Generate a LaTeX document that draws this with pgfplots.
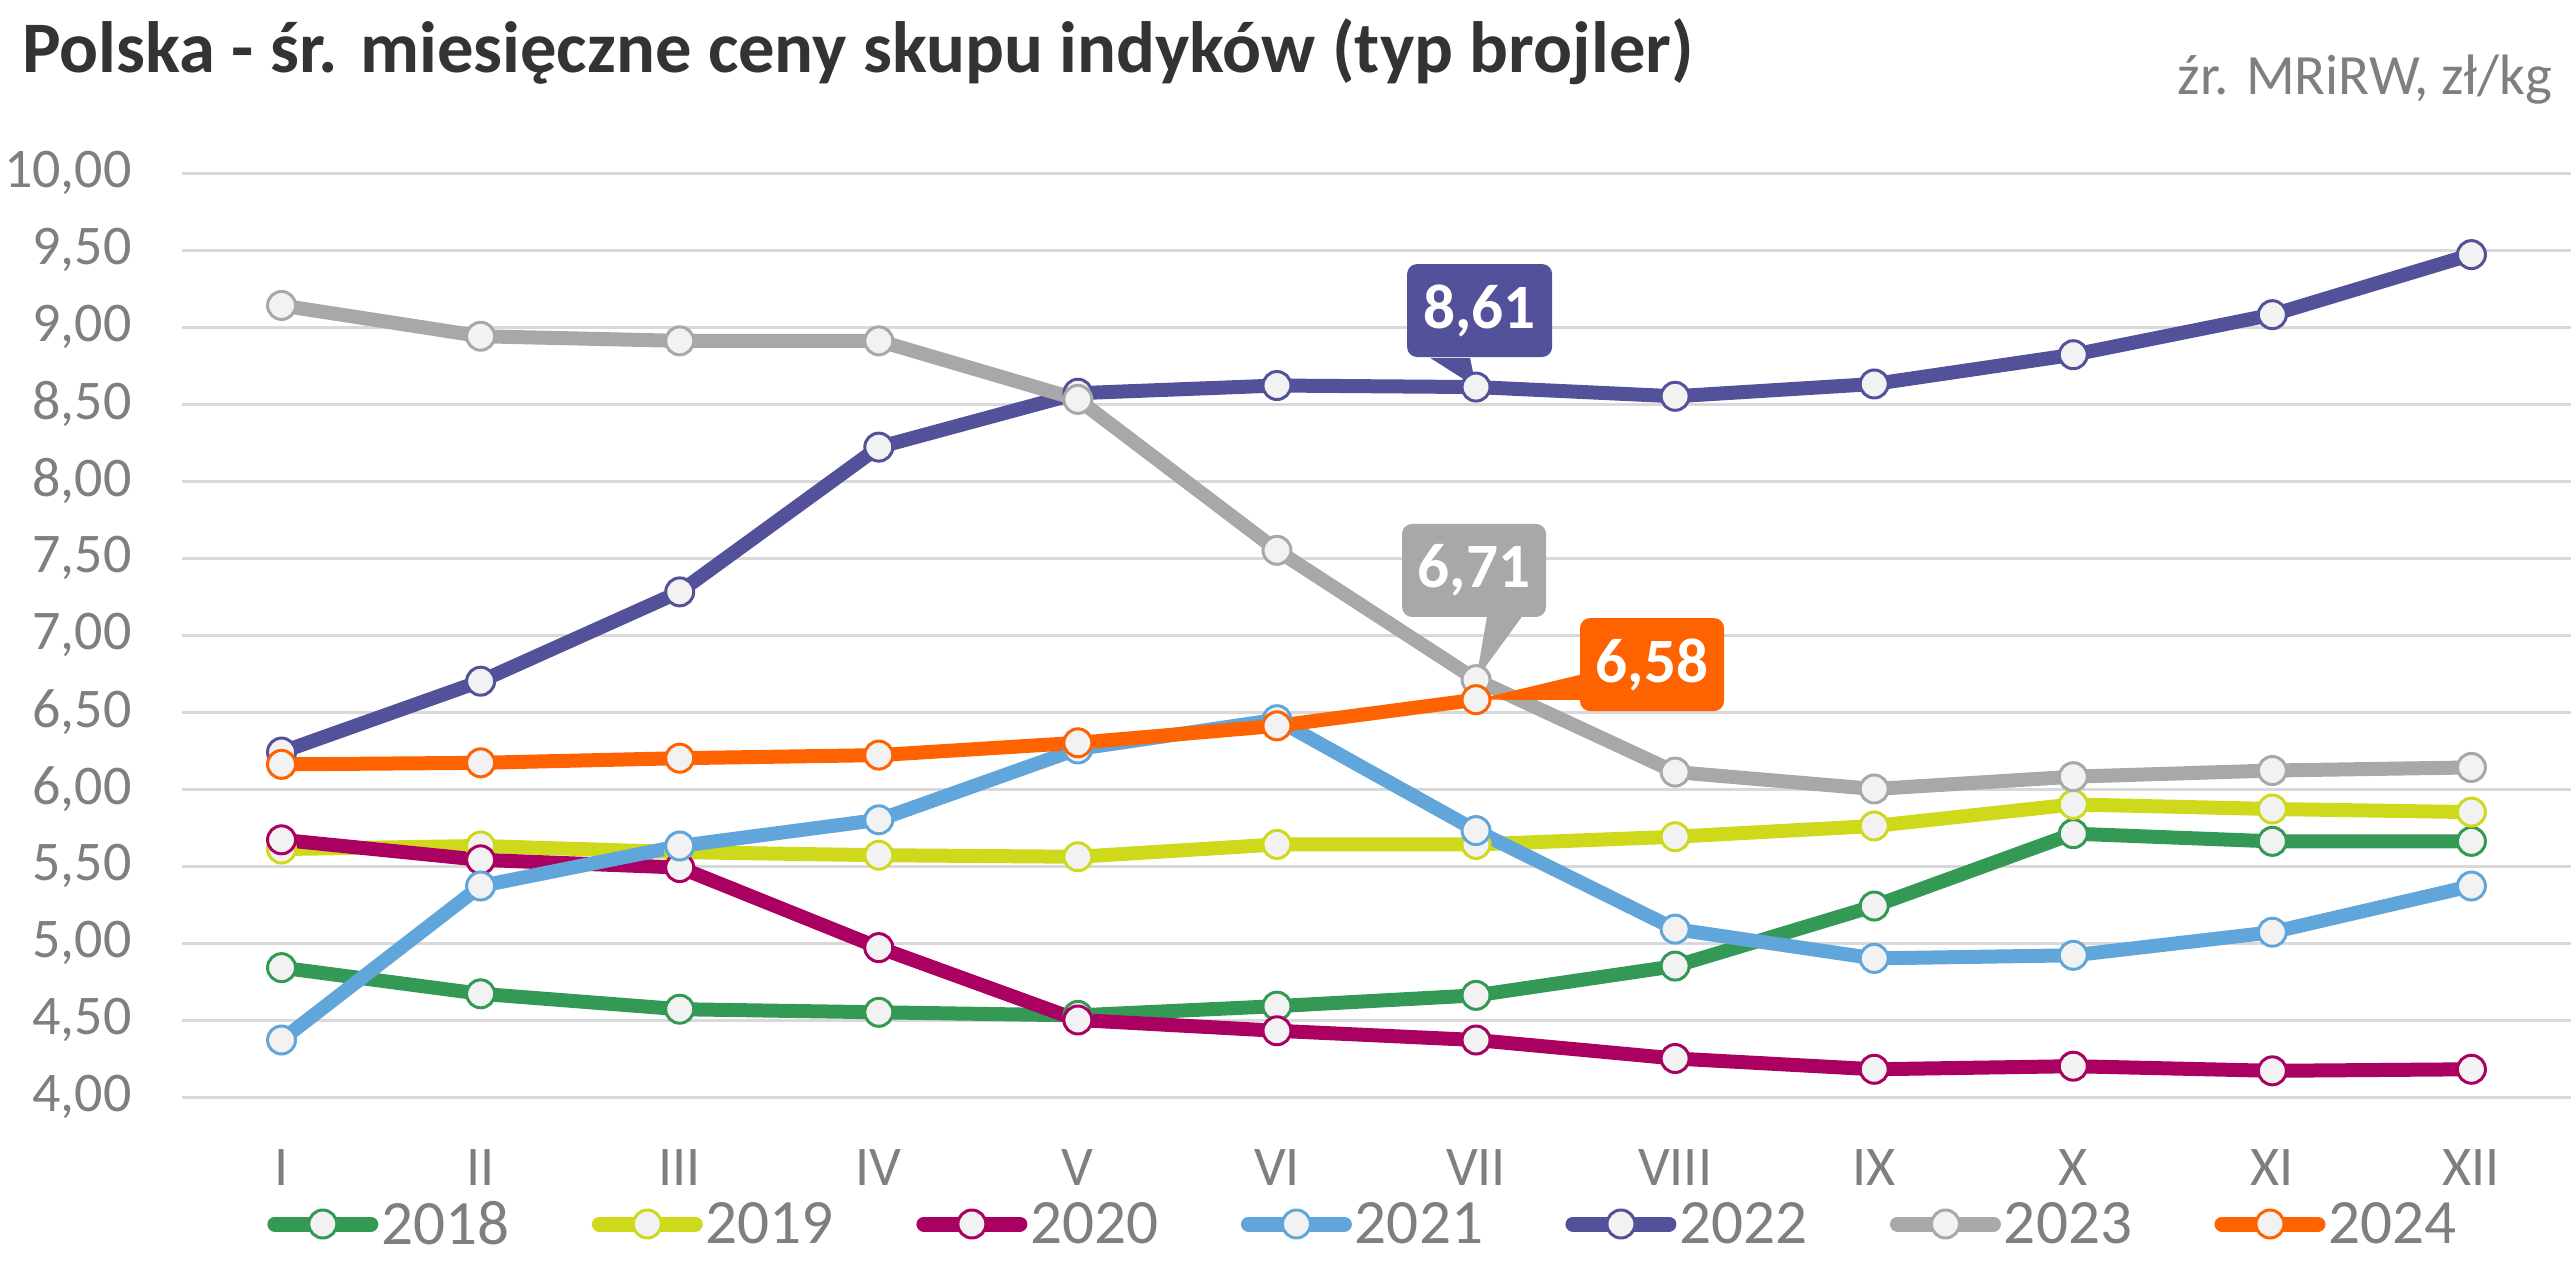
\documentclass[border=0pt]{standalone}
\usepackage{fontspec}
\setmainfont{Carlito}
\usepackage{pgfplots}
\pgfplotsset{compat=1.18}
\usepackage{pgfplotstable}
\definecolor{c18}{HTML}{339954}
\definecolor{c19}{HTML}{CFD91C}
\definecolor{c20}{HTML}{A90061}
\definecolor{c21}{HTML}{60A6DA}
\definecolor{c22}{HTML}{525199}
\definecolor{c23}{HTML}{A8A8A8}
\definecolor{c24}{HTML}{FF6200}
\definecolor{markfill}{HTML}{F2F2F2}
\definecolor{gridcol}{HTML}{D9D9D9}
\definecolor{tickcol}{HTML}{7F7F7F}
\definecolor{titlecol}{HTML}{333333}

\pgfplotstableread{
m y18 y19 y20 y21 y22 y23
1 4.84 5.61 5.67 4.37 6.24 9.14
2 4.67 5.63 5.54 5.37 6.70 8.94
3 4.57 5.59 5.49 5.63 7.28 8.91
4 4.55 5.57 4.97 5.80 8.22 8.91
5 4.53 5.56 4.50 6.26 8.57 8.53
6 4.59 5.64 4.43 6.45 8.62 7.55
7 4.66 5.64 4.37 5.73 8.61 6.71
8 4.85 5.69 4.25 5.09 8.55 6.11
9 5.24 5.76 4.18 4.90 8.63 6.00
10 5.71 5.90 4.20 4.92 8.82 6.08
11 5.66 5.87 4.17 5.07 9.08 6.12
12 5.66 5.85 4.18 5.37 9.47 6.14
}\datatab
\pgfplotstableread{
m y24
1 6.16
2 6.17
3 6.20
4 6.22
5 6.30
6 6.41
7 6.58
}\datatabb

\tikzset{ser/.style={#1, line width=7pt, line join=round, mark=*, mark size=7pt,
  mark options={fill=markfill, draw=#1, line width=1.5pt}}}

\begin{document}
\begin{tikzpicture}
\useasboundingbox (-91pt,-88.5pt) rectangle (1197pt,548.5pt);
\node[anchor=base west, inner sep=0pt, text=titlecol, font=\fontsize{36.3}{40}\selectfont\bfseries] at (-80pt,512pt) {Polska - śr. miesięczne ceny skupu indyków (typ brojler)};
\node[anchor=base east, inner sep=0pt, text=tickcol, font=\fontsize{28.5}{32}\selectfont] at (1185.5pt,501pt) {źr. MRiRW, zł/kg};
\begin{axis}[
  at={(0pt,0pt)}, anchor=south west,
  scale only axis, width=1194.5pt, height=462pt,
  xmin=0.5, xmax=12.5, ymin=4, ymax=10,
  clip=false,
  axis line style={draw=none},
  major tick length=0pt,
  ymajorgrids, grid style={gridcol, line width=1.5pt},
  xtick={1,...,12},
  xticklabels={I,II,III,IV,V,VI,VII,VIII,IX,X,XI,XII},
  ytick={4,4.5,5,5.5,6,6.5,7,7.5,8,8.5,9,9.5,10},
  yticklabels={{4,00},{4,50},{5,00},{5,50},{6,00},{6,50},{7,00},{7,50},{8,00},{8,50},{9,00},{9,50},{10,00}},
  ticklabel style={text=tickcol, font=\fontsize{28}{30}\selectfont, inner sep=0pt},
  yticklabel style={anchor=east, xshift=-25pt},
  xticklabel style={anchor=base, yshift=-44pt},
  legend columns=7,
  legend style={draw=none, fill=none, at={(0.5,0)}, anchor=center, yshift=-63.5pt, xshift=-6.5pt,
    font=\fontsize{31.6}{34}\selectfont, text=tickcol,
    nodes={inner sep=1.5pt},
    /tikz/every even column/.append style={column sep=39.7pt}},
  legend image code/.code={
    \draw[#1, line width=7.5pt, line cap=round, mark=none] (0pt,0pt) -- (48pt,0pt);
    \draw[#1, draw=none, mark repeat=2, mark phase=2] plot coordinates {(0pt,0pt) (24pt,0pt) (48pt,0pt)};
  },
]
\addplot[ser=c18] table[x=m, y=y18] {\datatab};
\addlegendentry{2018}
\addplot[ser=c19] table[x=m, y=y19] {\datatab};
\addlegendentry{2019}
\addplot[ser=c20] table[x=m, y=y20] {\datatab};
\addlegendentry{2020}
\addplot[ser=c21] table[x=m, y=y21] {\datatab};
\addlegendentry{2021}
\addplot[ser=c22] table[x=m, y=y22] {\datatab};
\addlegendentry{2022}
\addplot[ser=c23] table[x=m, y=y23] {\datatab};
\addlegendentry{2023}
\addplot[ser=c24] table[x=m, y=y24] {\datatabb};
\addlegendentry{2024}
% callouts
\fill[c22] (axis cs:6.769,8.80) -- (axis cs:7,8.61) -- (axis cs:6.97,8.80) -- cycle;
\node[fill=c22, rounded corners=5pt, minimum width=72.5pt, minimum height=46.5pt, inner sep=0pt, text=white, font=\fontsize{31.6}{34}\selectfont\bfseries] at (axis cs:7.018,9.107) {8,61};
\fill[c23] (axis cs:7.055,7.12) -- (axis cs:7,6.71) -- (axis cs:7.231,7.12) -- cycle;
\node[fill=c23, rounded corners=5pt, minimum width=72pt, minimum height=46.5pt, inner sep=0pt, text=white, font=\fontsize{31.6}{34}\selectfont\bfseries] at (axis cs:6.990,7.419) {6,71};
\fill[c24] (axis cs:7.56,6.753) -- (axis cs:7,6.58) -- (axis cs:7.56,6.578) -- cycle;
\node[fill=c24, rounded corners=5pt, minimum width=72pt, minimum height=46.5pt, inner sep=0pt, text=white, font=\fontsize{31.6}{34}\selectfont\bfseries] at (axis cs:7.884,6.808) {6,58};
\end{axis}
\end{tikzpicture}
\end{document}
